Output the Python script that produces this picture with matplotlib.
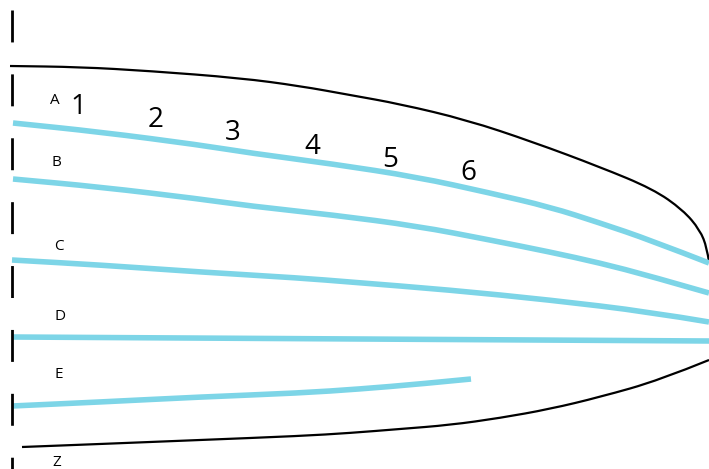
import matplotlib
matplotlib.use("Agg")
from matplotlib import pyplot as plt
from matplotlib.path import Path
from matplotlib.patches import PathPatch

plt.rcParams['lines.scale_dashes'] = False
plt.rcParams['font.family'] = ['Open Sans', 'DejaVu Sans']

# outline of the body (pixel coordinates)
top_x = [10, 80, 150, 240, 300, 350, 400, 467, 533, 600, 653, 683, 700, 707, 709]
top_y = [66, 67, 71, 78, 86, 95, 104, 120, 142, 167, 189, 210, 230, 248, 262]
bottom_x = [22, 100, 200, 300, 350, 400, 450, 500, 550, 600, 660, 709]
bottom_y = [447, 444, 440, 436, 433, 429, 425, 418, 409, 397, 380, 360]

# blue lines A-E
line_a_x = [13, 100, 200, 250, 333, 417, 490, 550, 600, 650, 709]
line_a_y = [123, 132, 145, 153, 164, 177, 193, 207, 223, 240, 263]
line_b_x = [13, 100, 200, 250, 333, 417, 490, 550, 600, 650, 709]
line_b_y = [179, 187, 199, 206, 215, 226, 240, 252, 263, 276, 293]
line_c_x = [12, 100, 200, 300, 350, 450, 550, 650, 709]
line_c_y = [260, 265, 272, 278, 282, 290, 300, 312, 322]
line_d_x = [12, 360, 709]
line_d_y = [337, 339, 341]
line_e_x = [12, 100, 200, 300, 360, 420, 471]
line_e_y = [406, 402, 397, 393, 389, 384, 379]

letters = ['A', 'B', 'C', 'D', 'E', 'Z']
letter_x = [55, 56, 59, 60, 59, 57]
letter_y = [101, 163, 246, 316, 374, 463]

numbers = ['1', '2', '3', '4', '5', '6']
number_x = [78, 156, 233, 312, 390, 468]
number_y = [107, 120, 133, 147, 160, 173]

blue = '#7dd5e7'


def smooth_path(xs, ys):
    # quadratic bezier through the midpoints, sampled points act as controls
    pts = list(zip(xs, ys))
    verts = [pts[0]]
    codes = [Path.MOVETO]
    if len(pts) < 3:
        verts += pts[1:]
        codes += [Path.LINETO] * (len(pts) - 1)
        return Path(verts, codes)
    mid = lambda p, q: ((p[0] + q[0]) / 2, (p[1] + q[1]) / 2)
    verts.append(mid(pts[0], pts[1]))
    codes.append(Path.LINETO)
    for i in range(1, len(pts) - 1):
        end = mid(pts[i], pts[i + 1]) if i < len(pts) - 2 else pts[-1]
        verts += [pts[i], end]
        codes += [Path.CURVE3, Path.CURVE3]
    return Path(verts, codes)


fig = plt.figure(figsize=(7.09, 4.69), dpi=100)
ax = fig.add_axes([0, 0, 1, 1])
ax.set_xlim(0, 709)
ax.set_ylim(469, 0)
ax.axis('off')

# dashed centre line
ax.plot([12, 12], [10, 469], color='black', lw=2.0,
        linestyle=(0, (23, 23)), solid_capstyle='butt')

for xs, ys in [(top_x, top_y), (bottom_x, bottom_y)]:
    ax.add_patch(PathPatch(smooth_path(xs, ys), facecolor='none',
                           edgecolor='black', lw=1.6))

for xs, ys in [(line_a_x, line_a_y), (line_b_x, line_b_y), (line_c_x, line_c_y),
               (line_d_x, line_d_y), (line_e_x, line_e_y)]:
    ax.add_patch(PathPatch(smooth_path(xs, ys), facecolor='none',
                           edgecolor=blue, lw=4.0, capstyle='butt'))

for t, x, y in zip(letters, letter_x, letter_y):
    ax.text(x, y, t, fontsize=11, ha='center', va='center')

for t, x, y in zip(numbers, number_x, number_y):
    ax.text(x, y, t, fontsize=20, ha='center', va='center')

plt.savefig('out.png', dpi=100)
